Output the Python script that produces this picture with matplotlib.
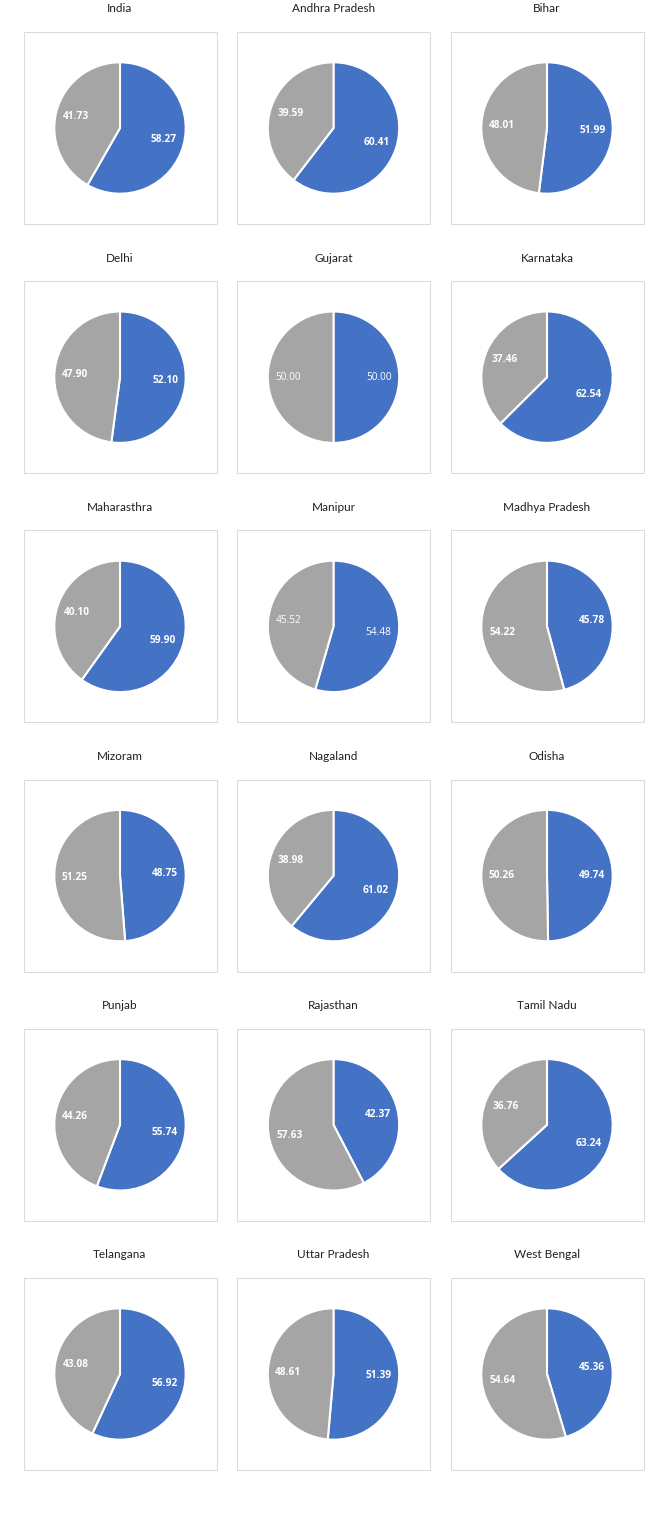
import matplotlib
matplotlib.use("Agg")
import matplotlib.pyplot as plt
from matplotlib.patches import Rectangle

regions = ["India", "Andhra Pradesh", "Bihar",
           "Delhi", "Gujarat", "Karnataka",
           "Maharasthra", "Manipur", "Madhya Pradesh",
           "Mizoram", "Nagaland", "Odisha",
           "Punjab", "Rajasthan", "Tamil Nadu",
           "Telangana", "Uttar Pradesh", "West Bengal"]
blue_share = [58.27, 60.41, 51.99,
              52.10, 50.00, 62.54,
              59.90, 54.48, 45.78,
              48.75, 61.02, 49.74,
              55.74, 42.37, 63.24,
              56.92, 51.39, 45.36]
gray_share = [41.73, 39.59, 48.01,
              47.90, 50.00, 37.46,
              40.10, 45.52, 54.22,
              51.25, 38.98, 50.26,
              44.26, 57.63, 36.76,
              43.08, 48.61, 54.64]
light_label_regions = {"Gujarat", "Manipur"}

W, H = 666, 1515
fig = plt.figure(figsize=(W / 100, H / 100), dpi=100)
fig.patch.set_facecolor("white")

col_cx = [120, 333.5, 547]
row0_cy = 128
row_step = 249.2
R = 67
box_w, box_h = 193, 192

for i, name in enumerate(regions):
    r, c = divmod(i, 3)
    cx = col_cx[c]
    cy = row0_cy + r * row_step
    fig.patches.append(Rectangle(((cx - box_w / 2) / W, 1 - (cy + box_h / 2) / H),
                                 box_w / W, box_h / H, transform=fig.transFigure,
                                 facecolor="none", edgecolor="#dcdcdc", lw=0.8, zorder=-5))
    fig.text(cx / W, 1 - (cy - 119) / H, name, ha="center", va="center",
             fontsize=8.5, family="Lato", color="#1f1f1f")
    ax = fig.add_axes([(cx - R) / W, 1 - (cy + R) / H, 2 * R / W, 2 * R / H])
    ax.set_zorder(5)
    ax.patch.set_visible(False)
    vals = [blue_share[i], gray_share[i]]
    wedges, texts = ax.pie(vals, colors=["#4472C4", "#A5A5A5"], startangle=90,
                           counterclock=False, radius=1,
                           labels=[f"{v:.2f}" for v in vals], labeldistance=0.69,
                           wedgeprops=dict(edgecolor="white", linewidth=1.5))
    weight = "normal" if name in light_label_regions else "bold"
    for t in texts:
        t.set_color("white")
        t.set_fontsize(7.3)
        t.set_fontweight(weight)
        t.set_family("Open Sans")
        t.set_ha("center")
        t.set_va("center")
    ax.set_xlim(-1.02, 1.02)
    ax.set_ylim(-1.02, 1.02)
    ax.set_aspect("equal")
    ax.axis("off")

fig.savefig("out.png", dpi=100, facecolor="white")
